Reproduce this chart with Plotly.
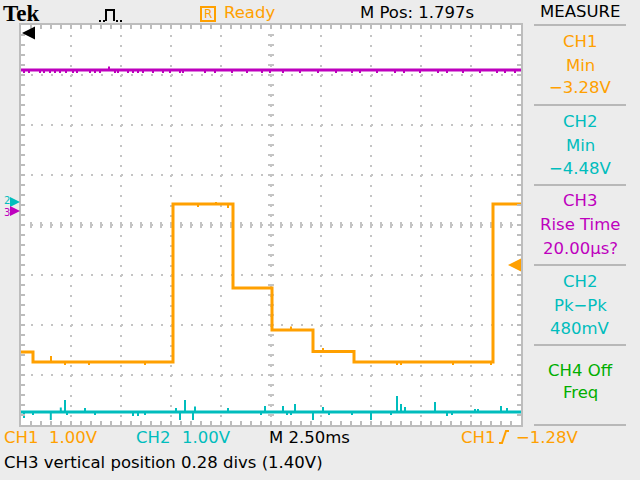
import plotly.graph_objects as go

# ---------------- data ----------------
SCREEN_MS = 25.0          # 10 div x 2.50 ms/div
TIME_DIV_MS = 2.5
SCREEN_DIV = 4.0          # +/- 4 vertical divisions

# CH1 (orange), 1.00 V/div
ch1_vdiv = 1.0
ch1_pos = 0.48
ch1_step_ms = [0.0, 0.6, 7.6, 10.6, 12.55, 14.6, 16.65, 23.6]
ch1_level_v = [-3.02, -3.22, -0.06, -1.74, -2.58, -3.01, -3.22, -0.06]
ch1_glitch_ms = [1.5, 2.2, 3.4, 6.2, 8.85, 9.75, 10.35, 13.5, 15.1, 18.8, 19.0, 21.6, 23.5]
ch1_glitch_v = [-3.10, -3.28, -3.28, -3.28, -0.12, -0.02, -0.14, -2.51, -2.94, -3.28, -3.28, -3.28, -3.28]

# CH2 (cyan), 1.00 V/div
ch2_vdiv = 1.0
ch2_pos = 0.46
ch2_level_v = -4.20
ch2_glitch_ms = [0.15, 0.6, 1.49, 1.99, 2.2, 2.3, 3.2, 3.7, 5.6, 5.85, 6.2, 7.75, 7.95, 8.2, 8.6, 8.7,
                 10.35, 12.0, 12.2, 13.1, 13.3, 13.5, 13.7, 14.6, 15.1, 15.4, 16.55, 17.5, 18.5, 18.8,
                 19.0, 19.2, 20.7, 21.3, 21.55, 22.7, 22.85, 24.0, 24.3]
ch2_glitch_v = [-4.32, -4.26, -4.36, -4.11, -3.96, -4.26, -4.12, -4.26, -4.28, -4.28, -4.26, -4.12, -4.36,
                -3.96, -4.36, -4.09, -4.12, -4.26, -4.08, -4.08, -4.26, -4.26, -4.04, -4.36, -4.10, -4.26,
                -4.26, -4.36, -4.26, -3.88, -4.04, -4.10, -4.00, -4.28, -4.26, -4.14, -4.14, -4.08, -4.12]

# CH3 (magenta), 5 V/div, position 0.28 div
ch3_vdiv = 5.0
ch3_pos = 0.28
ch3_level_v = 14.1
ch3_glitch_ms = [0.15, 0.4, 0.95, 1.15, 1.45, 1.7, 1.95, 2.25, 2.6, 2.8, 3.45, 3.7, 3.95, 4.4, 4.7, 4.85,
                 5.35, 5.6, 5.85, 6.1, 6.6, 7.1, 7.45, 7.95, 8.1, 9.2, 9.7, 10.55, 11.3, 12.05, 12.45,
                 13.1, 13.95, 14.85, 15.75, 16.55, 16.95, 17.8, 18.7, 19.15, 19.95, 20.85, 21.3, 22.1,
                 22.95, 23.8, 24.2, 24.7]
ch3_glitch_v = [13.8] * 13 + [14.45] + [13.8] * 34

trigger_level_v = -1.28

# ---------------- style ----------------
BG = "#ECECEC"
GRID = "#C4C4C4"
BORDER = "#BDBDBD"
SEP = "#B8B8B8"
ORANGE = "#FFA000"
CYAN = "#00BDBD"
MAGENTA = "#BE00BE"
GREEN = "#00AF00"
FONT = "DejaVu Sans"
FS = 16.5

L, T, PW, PH = 21, 25, 500, 400


def px(x):
    return (x - L) / PW


def py(y):
    return (T + PH - y) / PH


def to_div(v, vdiv, pos):
    return v / vdiv + pos


def level_at(t, steps, levels):
    cur = levels[0]
    for s, lv in zip(steps, levels):
        if s <= t:
            cur = lv
    return cur


def glitch_xy(times, vals, base_fn, vdiv, pos):
    xs, ys = [], []
    for t, v in zip(times, vals):
        xs += [t, t, None]
        ys += [to_div(base_fn(t), vdiv, pos), to_div(v, vdiv, pos), None]
    return xs, ys


fig = go.Figure()

# CH3
fig.add_trace(go.Scatter(x=[0, SCREEN_MS], y=[to_div(ch3_level_v, ch3_vdiv, ch3_pos)] * 2,
                         mode="lines", line=dict(color=MAGENTA, width=3), hoverinfo="skip"))
gx, gy = glitch_xy(ch3_glitch_ms, ch3_glitch_v, lambda t: ch3_level_v, ch3_vdiv, ch3_pos)
fig.add_trace(go.Scatter(x=gx, y=gy, mode="lines", line=dict(color=MAGENTA, width=2), hoverinfo="skip"))

# CH2
fig.add_trace(go.Scatter(x=[0, SCREEN_MS], y=[to_div(ch2_level_v, ch2_vdiv, ch2_pos)] * 2,
                         mode="lines", line=dict(color=CYAN, width=3), hoverinfo="skip"))
gx, gy = glitch_xy(ch2_glitch_ms, ch2_glitch_v, lambda t: ch2_level_v, ch2_vdiv, ch2_pos)
fig.add_trace(go.Scatter(x=gx, y=gy, mode="lines", line=dict(color=CYAN, width=2), hoverinfo="skip"))

# CH1
fig.add_trace(go.Scatter(x=ch1_step_ms + [SCREEN_MS],
                         y=[to_div(v, ch1_vdiv, ch1_pos) for v in ch1_level_v + [ch1_level_v[-1]]],
                         mode="lines", line=dict(color=ORANGE, width=3, shape="hv"), hoverinfo="skip"))
gx, gy = glitch_xy(ch1_glitch_ms, ch1_glitch_v, lambda t: level_at(t, ch1_step_ms, ch1_level_v),
                   ch1_vdiv, ch1_pos)
fig.add_trace(go.Scatter(x=gx, y=gy, mode="lines", line=dict(color=ORANGE, width=2), hoverinfo="skip"))

# ---------------- graticule center ticks ----------------
shapes = []
mid_t = SCREEN_MS / 2
for k in range(1, 50):
    t = k * TIME_DIV_MS / 5
    shapes.append(dict(type="line", xref="x", yref="y", x0=t, x1=t, y0=-0.06, y1=0.06,
                       line=dict(color=GRID, width=2), layer="below"))
for k in range(1, 40):
    v = -SCREEN_DIV + k * 0.2
    shapes.append(dict(type="line", xref="x", yref="y", x0=mid_t - 0.15, x1=mid_t + 0.15, y0=v, y1=v,
                       line=dict(color=GRID, width=2), layer="below"))

# right panel separators
for yy in [25, 105, 185, 265, 345, 425]:
    shapes.append(dict(type="line", xref="paper", yref="paper", x0=px(534), x1=px(626), y0=py(yy), y1=py(yy),
                       line=dict(color=SEP, width=2)))

# "R" box
shapes.append(dict(type="rect", xref="paper", yref="paper", x0=px(201), x1=px(215), y0=py(21), y1=py(7),
                   line=dict(color=ORANGE, width=2)))
# acquisition icon
shapes.append(dict(type="line", xref="paper", yref="paper", x0=px(99), x1=px(105), y0=py(21), y1=py(21),
                   line=dict(color="black", width=2, dash="2px,2px")))
shapes.append(dict(type="path", xref="paper", yref="paper",
                   path="M %f,%f L %f,%f L %f,%f L %f,%f" % (px(106), py(21), px(106), py(10),
                                                           px(114), py(10), px(114), py(21)),
                   line=dict(color="black", width=2)))
shapes.append(dict(type="line", xref="paper", yref="paper", x0=px(116), x1=px(124), y0=py(21), y1=py(21),
                   line=dict(color="black", width=2, dash="2px,2px")))
# trigger edge symbol
shapes.append(dict(type="path", xref="paper", yref="paper",
                   path="M %f,%f L %f,%f L %f,%f L %f,%f" % (px(499), py(443), px(502), py(443),
                                                           px(506), py(431), px(509), py(431)),
                   line=dict(color=ORANGE, width=2)))

# ---------------- text ----------------
ann = []


def text(s, x, y, color, size=FS, xanchor="center", family=FONT):
    ann.append(dict(text=s, x=px(x), y=py(y), xref="paper", yref="paper", xanchor=xanchor,
                    yanchor="middle", showarrow=False, font=dict(family=family, size=size, color=color)))


text("<b>Tek</b>", 1, 14, "black", size=23, xanchor="left", family="Liberation Serif")
text("R", 208, 14.5, ORANGE, size=12)
text("Ready", 222, 13, ORANGE, xanchor="left")
text("M Pos: 1.797s", 358, 13, "black", xanchor="left")
text("MEASURE", 580, 11, "black")

panel = [
    ("CH1", 42, ORANGE), ("Min", 65, ORANGE), ("\u22123.28V", 88, ORANGE),
    ("CH2", 121, CYAN), ("Min", 145, CYAN), ("\u22124.48V", 168, CYAN),
    ("CH3", 201, MAGENTA), ("Rise Time", 224, MAGENTA), ("20.00\u00b5s?", 248, MAGENTA),
    ("CH2", 281, CYAN), ("Pk\u2212Pk", 305, CYAN), ("480mV", 328, CYAN),
    ("CH4 Off", 370, GREEN), ("Freq", 392, GREEN),
]
for s, yy, c in panel:
    text(s, 580, yy, c)

text("CH1", 2, 437, ORANGE, xanchor="left")
text("1.00V", 47, 437, ORANGE, xanchor="left")
text("CH2", 134, 437, CYAN, xanchor="left")
text("1.00V", 180, 437, CYAN, xanchor="left")
text("M 2.50ms", 267, 437, "black", xanchor="left")
text("CH1", 459, 437, ORANGE, xanchor="left")
text("\u22121.28V", 581, 437, ORANGE, xanchor="right")
text("CH3 vertical position 0.28 divs (1.40V)", 2, 462, "black", xanchor="left")

# channel ground markers
for label, pos, c, dy in [("2", ch2_pos, CYAN, -2), ("3", ch3_pos, MAGENTA, 1)]:
    ann.append(dict(text=label, x=px(7), y=pos, xref="paper", yref="y", showarrow=False, yshift=-dy,
                    xanchor="center", yanchor="middle", font=dict(family=FONT, size=10, color=c)))
    ann.append(dict(text="", x=px(20), y=pos, xref="paper", yref="y", showarrow=True, ax=-7, ay=0,
                    arrowhead=2, arrowsize=1.0, arrowwidth=2, arrowcolor=c))

# trigger level marker
ann.append(dict(text="", x=px(508), y=to_div(trigger_level_v, ch1_vdiv, ch1_pos), xref="paper", yref="y",
                showarrow=True, ax=13, ay=0, arrowhead=2, arrowsize=1.3, arrowwidth=2, arrowcolor=ORANGE))
# horizontal position marker
ann.append(dict(text="", x=px(22), y=py(33), xref="paper", yref="paper",
                showarrow=True, ax=12, ay=0, arrowhead=2, arrowsize=1.3, arrowwidth=2, arrowcolor="black"))

axis_common = dict(showgrid=True, gridcolor=GRID, gridwidth=2, griddash="2px,8px", zeroline=False,
                   showline=True, linecolor=BORDER, linewidth=2, mirror="allticks",
                   ticks="inside", ticklen=4, tickwidth=2, tickcolor=BORDER, showticklabels=False,
                   fixedrange=True)

fig.update_layout(
    width=640, height=480,
    margin=dict(l=L, r=640 - L - PW, t=T, b=480 - T - PH),
    paper_bgcolor=BG, plot_bgcolor="white", showlegend=False,
    xaxis=dict(range=[0, SCREEN_MS], dtick=TIME_DIV_MS,
               minor=dict(dtick=TIME_DIV_MS / 5, ticks="inside", ticklen=4, tickwidth=2, tickcolor=BORDER),
               **axis_common),
    yaxis=dict(range=[-SCREEN_DIV, SCREEN_DIV], dtick=1,
               minor=dict(dtick=0.2, ticks="inside", ticklen=4, tickwidth=2, tickcolor=BORDER),
               **axis_common),
    shapes=shapes,
    annotations=ann,
)

fig.write_html("out.html", config={"displayModeBar": False},
               post_script="document.body.style.margin='0';document.body.style.background='%s';" % BG)
